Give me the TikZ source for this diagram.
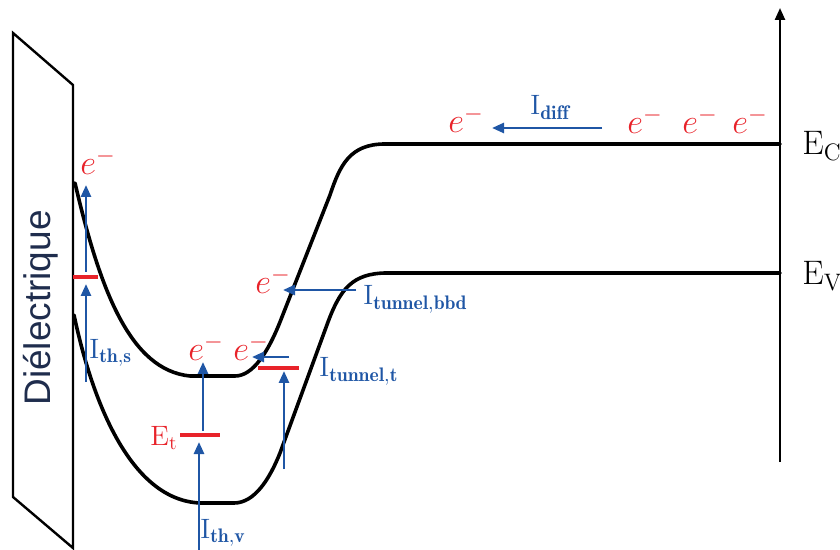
\documentclass[tikz,border=0pt]{standalone}
\usepackage{amsmath,amssymb}
\usepackage{xcolor}
\usepackage{fontspec}
\newfontfamily\dielfont{Liberation Sans}
\usepackage{tikz}
\usetikzlibrary{arrows.meta}
\definecolor{ink}{HTML}{000000}
\definecolor{elred}{HTML}{E8232A}
\definecolor{curblue}{HTML}{1F56A5}
\definecolor{navy}{HTML}{1F2D4D}
\tikzset{
  band/.style={draw=ink, line width=1.8pt, line cap=round, line join=round},
  wall/.style={draw=ink, line width=1.2pt, line join=miter},
  axis/.style={draw=ink, line width=1.2pt, -{Triangle[length=6pt,width=5pt]}},
  cur/.style={draw=curblue, line width=1.3pt, -{Triangle[length=6pt,width=5pt]}},
  lvl/.style={draw=elred, line width=2.1pt},
  elec/.style={text=elred, font=\fontsize{16.5}{18}\selectfont, inner sep=0pt, anchor=base west},
  lab/.style={text=curblue, font=\fontsize{14}{16}\selectfont, inner sep=0pt, anchor=base west},
  labr/.style={text=elred, font=\fontsize{14}{16}\selectfont, inner sep=0pt, anchor=base west},
  labk/.style={text=ink, font=\fontsize{17}{20}\selectfont, inner sep=0pt, anchor=base west},
}

\begin{document}
\begin{tikzpicture}[x=0.5pt,y=-0.5pt]
  \useasboundingbox (0,0) rectangle (840,550);
  % dielectric
  \draw[wall] (13,33) -- (73,85) -- (73,548) -- (13,497) -- cycle;
  \node[text=navy, font=\dielfont\fontsize{18.5}{20}\selectfont, rotate=90] (diel) at (41,308) {Diélectrique};
  % energy axis
  \coordinate (ax0) at (780,462);
  \coordinate (ax1) at (780,8);
  \draw[axis] (ax0) -- (ax1);
  % bands
  \draw[band] (75,183) .. controls (100,290) and (130,370) .. (190,376) -- (235,376)
    .. controls (253,376) and (268,352) .. (280,322) -- (330,195)
    .. controls (340,165) and (350,144) .. (385,144) -- (780,144);
  \draw[band] (74,315) .. controls (92,400) and (130,500) .. (200,503) -- (234,503)
    .. controls (255,503) and (270,478) .. (280,453) -- (328,322)
    .. controls (340,290) and (352,273) .. (387,273) -- (780,273);
  \node[labk] (EC) at (802,155) {$\mathrm{E}_{\mathrm{C}}$};
  \node[labk] (EV) at (802,285) {$\mathrm{E}_{\mathrm{V}}$};
  % levels
  \coordinate (s0) at (73,277);   \coordinate (s1) at (98,277);
  \coordinate (t0) at (180,435);  \coordinate (t1) at (220,435);
  \coordinate (u0) at (258,368);  \coordinate (u1) at (299,368);
  \foreach \a/\b in {s0/s1,t0/t1,u0/u1}
    \draw[lvl] (\a) -- (\b);
  \node[labr] (Et) at (150,445) {$\mathrm{E}_{\mathrm{t}}$};
  % electrons
  \foreach \n/\x/\y in {eS/80/175,eV/188/361,eT/233/361,eB/255/294,eD/448/133,eR1/627/134,eR2/682/134,eR3/732/134}
    \node[elec] (\n) at (\x,\y) {$e^-$};
  % currents
  \coordinate (a0) at (86,382);   \coordinate (a1) at (86,284);
  \coordinate (b0) at (86,272);   \coordinate (b1) at (86,185);
  \coordinate (c0) at (199,550);  \coordinate (c1) at (199,442);
  \coordinate (d0) at (203,431);  \coordinate (d1) at (203,362);
  \coordinate (f0) at (284,469);  \coordinate (f1) at (284,371);
  \coordinate (g0) at (289,357);  \coordinate (g1) at (252,357);
  \coordinate (h0) at (356,290);  \coordinate (h1) at (283,290);
  \coordinate (k0) at (602,128);  \coordinate (k1) at (492,128);
  \foreach \a/\b in {a0/a1,b0/b1,c0/c1,d0/d1,f0/f1,g0/g1,h0/h1,k0/k1}
    \draw[cur] (\a) -- (\b);
  \node[lab] (Iths) at (89,358) {$\mathrm{I}_{\mathbf{th,s}}$};
  \node[lab] (Ithv) at (200,538) {$\mathrm{I}_{\mathbf{th,v}}$};
  \node[lab] (Itt) at (319,377) {$\mathrm{I}_{\mathbf{tunnel,t}}$};
  \node[lab] (Itb) at (363,305) {$\mathrm{I}_{\mathbf{tunnel,bbd}}$};
  \node[lab] (Idf) at (530,115) {$\mathrm{I}_{\mathbf{diff}}$};
\end{tikzpicture}
\end{document}
